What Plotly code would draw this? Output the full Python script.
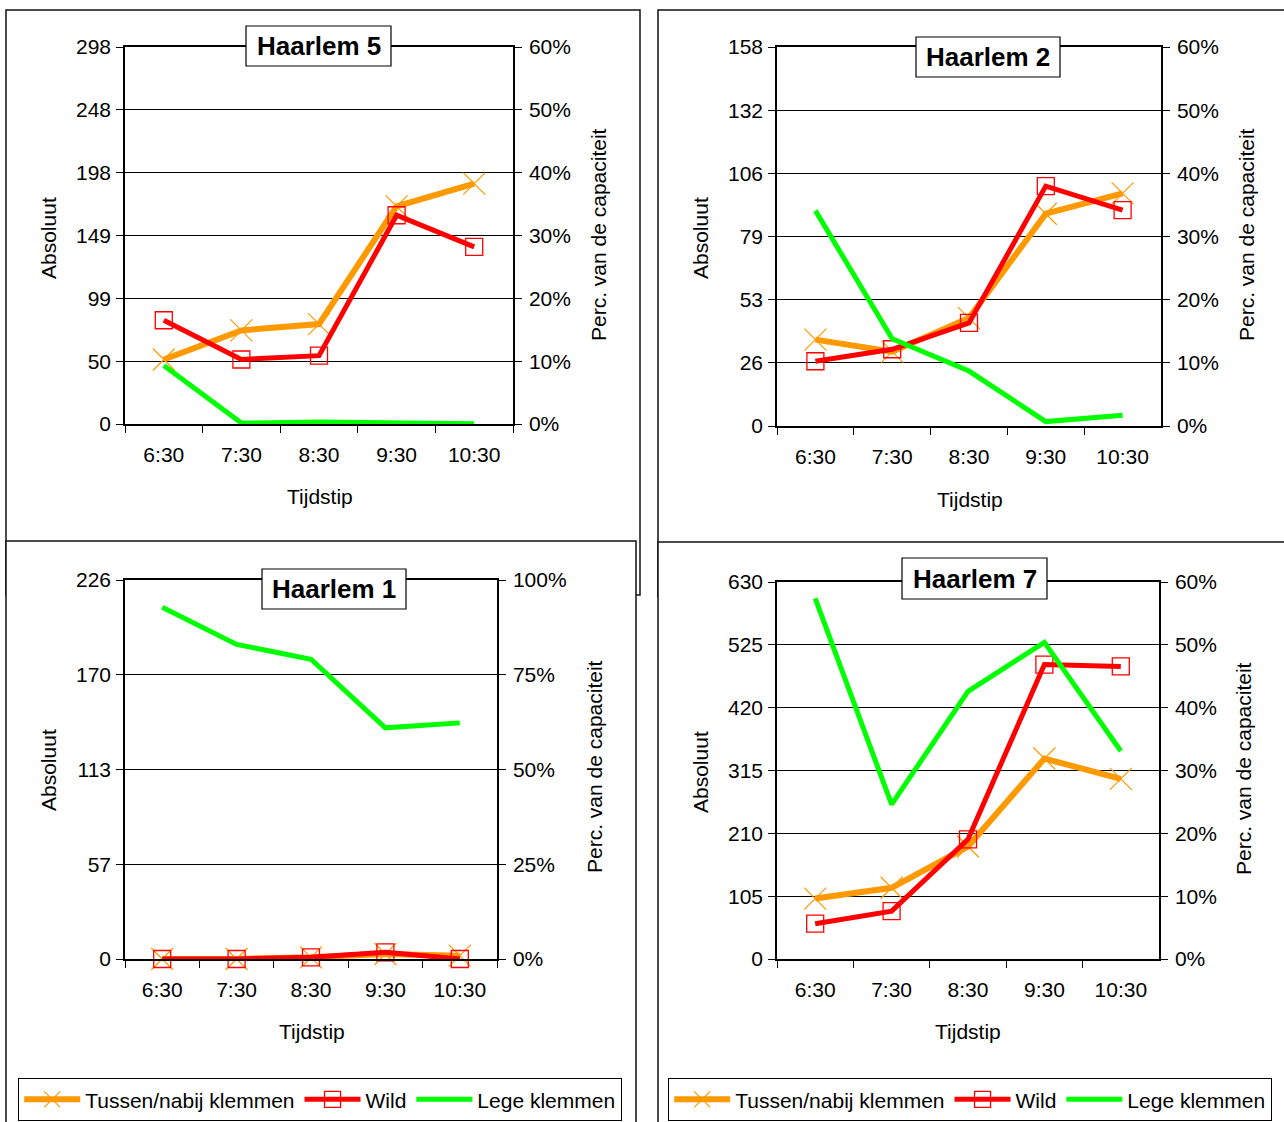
import plotly.graph_objects as go

W, H = 1284, 1122

# ---------------- data ----------------
times = ["6:30", "7:30", "8:30", "9:30", "10:30"]
series_names = ["Tussen/nabij klemmen", "Wild", "Lege klemmen"]

# Haarlem 5
h5_tussen = [51, 74, 79, 172, 190]
h5_wild = [82, 51, 54, 165, 140]
h5_lege = [0.093, 0.0015, 0.003, 0.0015, 0.0005]
h5_left_labels = ["0", "50", "99", "149", "198", "248", "298"]
h5_left_max = 298
h5_right_max = 0.60

# Haarlem 2
h2_tussen = [36, 31, 45, 88.5, 97]
h2_wild = [27, 32, 43, 100, 90]
h2_lege = [0.341, 0.138, 0.087, 0.007, 0.017]
h2_left_labels = ["0", "26", "53", "79", "106", "132", "158"]
h2_left_max = 158
h2_right_max = 0.60

# Haarlem 1
h1_tussen = [0, 0, 1, 3, 2]
h1_wild = [0, 0, 1, 4, 0]
h1_lege = [0.928, 0.83, 0.791, 0.61, 0.623]
h1_left_labels = ["0", "57", "113", "170", "226"]
h1_left_max = 226
h1_right_max = 1.00

# Haarlem 7
h7_tussen = [101, 119, 188, 335, 301]
h7_wild = [59, 80, 200, 492, 489]
h7_lege = [0.574, 0.246, 0.426, 0.504, 0.331]
h7_left_labels = ["0", "105", "210", "315", "420", "525", "630"]
h7_left_max = 630
h7_right_max = 0.60

axis_left_title = "Absoluut"
axis_right_title = "Perc. van de capaciteit"
axis_x_title = "Tijdstip"

# ---------------- styling / layout helpers ----------------
FONT = "Liberation Sans, Arial, sans-serif"
ORANGE = "#FF9900"
RED = "#FF0000"
GREEN = "#00FF00"


def px(x):
    return x / W


def py(y):
    return 1 - y / H


panels = [
    dict(title="Haarlem 5", t=h5_tussen, w=h5_wild, g=h5_lege, labels=h5_left_labels,
         lmax=h5_left_max, rmax=h5_right_max, rdtick=0.1,
         plot=(125, 513, 47, 424), tbox=(246, 391, 26, 66),
         ltitle=(48, 238), rtitle=(598, 235), xtitle=(320, 497), legend=None),
    dict(title="Haarlem 2", t=h2_tussen, w=h2_wild, g=h2_lege, labels=h2_left_labels,
         lmax=h2_left_max, rmax=h2_right_max, rdtick=0.1,
         plot=(777, 1161, 47, 426), tbox=(916, 1060, 37, 77),
         ltitle=(700, 238), rtitle=(1246, 235), xtitle=(970, 499), legend=None),
    dict(title="Haarlem 1", t=h1_tussen, w=h1_wild, g=h1_lege, labels=h1_left_labels,
         lmax=h1_left_max, rmax=h1_right_max, rdtick=0.25,
         plot=(125, 497, 580, 959), tbox=(262, 406, 569, 609),
         ltitle=(48, 770), rtitle=(594, 767), xtitle=(312, 1031), legend="legend"),
    dict(title="Haarlem 7", t=h7_tussen, w=h7_wild, g=h7_lege, labels=h7_left_labels,
         lmax=h7_left_max, rmax=h7_right_max, rdtick=0.1,
         plot=(777, 1159, 582, 959), tbox=(902, 1047, 558, 599),
         ltitle=(700, 772), rtitle=(1243, 769), xtitle=(968, 1031), legend="legend2"),
]

fig = go.Figure()
shapes = []
annotations = []

# outer frames of the four chart objects (drawn first = underneath)
frames = [(6, 10, 640, 595), (658, 10, 1290, 597), (6, 541, 636, 1130), (658, 542, 1290, 1130)]
for (x0, y0, x1, y1) in frames:
    shapes.append(dict(type="rect", xref="paper", yref="paper", layer="below",
                       x0=px(x0), x1=px(x1), y0=py(y0), y1=py(y1),
                       line=dict(color="#111", width=1.5), fillcolor="white"))

layout_axes = {}
for i, p in enumerate(panels):
    k = i + 1
    xa = "x" if k == 1 else f"x{k}"
    yl_n = 2 * i + 1
    yr_n = 2 * i + 2
    yl = "y" if yl_n == 1 else f"y{yl_n}"
    yr = f"y{yr_n}"
    x0, x1, ytop, ybot = p["plot"]
    show = p["legend"] is not None

    fig.add_trace(go.Scatter(
        x=times, y=p["t"], name=series_names[0], mode="lines+markers", cliponaxis=False,
        line=dict(color=ORANGE, width=6),
        marker=dict(symbol="x-thin-open", size=22, color=ORANGE, line=dict(color=ORANGE, width=1.2)),
        xaxis=xa, yaxis=yl, showlegend=show, legend=p["legend"] or "legend"))
    fig.add_trace(go.Scatter(
        x=times, y=p["w"], name=series_names[1], mode="lines+markers", cliponaxis=False,
        line=dict(color=RED, width=5),
        marker=dict(symbol="square-open", size=17, color=RED, line=dict(color=RED, width=1.3)),
        xaxis=xa, yaxis=yl, showlegend=show, legend=p["legend"] or "legend"))
    fig.add_trace(go.Scatter(
        x=times, y=p["g"], name=series_names[2], mode="lines", cliponaxis=False,
        line=dict(color=GREEN, width=5),
        xaxis=xa, yaxis=yr, showlegend=show, legend=p["legend"] or "legend"))

    nlab = len(p["labels"]) - 1
    tickvals = [p["lmax"] * j / nlab for j in range(nlab + 1)]

    layout_axes["xaxis" if k == 1 else f"xaxis{k}"] = dict(
        domain=[px(x0), px(x1)], anchor=yl, type="category", range=[-0.5, 4.5],
        showline=True, linecolor="black", linewidth=1.5, mirror=True,
        ticks="outside", ticklen=7, tickcolor="black", tickson="boundaries",
        showgrid=False, tickfont=dict(family=FONT, size=21, color="black"),
        ticklabelstandoff=11, automargin=False, fixedrange=True)
    layout_axes["yaxis" if yl_n == 1 else f"yaxis{yl_n}"] = dict(
        domain=[py(ybot), py(ytop)], anchor=xa, range=[0, p["lmax"]],
        tickvals=tickvals, ticktext=p["labels"],
        showline=True, linecolor="black", linewidth=1.5,
        ticks="outside", ticklen=7, tickcolor="black",
        showgrid=True, gridcolor="black", gridwidth=1, zeroline=False,
        tickfont=dict(family=FONT, size=21, color="black"),
        ticklabelstandoff=1, automargin=False, fixedrange=True)
    layout_axes[f"yaxis{yr_n}"] = dict(
        domain=[py(ybot), py(ytop)], anchor=xa, overlaying=yl, side="right",
        range=[0, p["rmax"]], dtick=p["rdtick"], tick0=0, tickformat=".0%",
        showline=True, linecolor="black", linewidth=1.5,
        ticks="outside", ticklen=7, tickcolor="black",
        showgrid=False, zeroline=False,
        tickfont=dict(family=FONT, size=21, color="black"),
        ticklabelstandoff=3, automargin=False, fixedrange=True)

    # title box
    bx0, bx1, by0, by1 = p["tbox"]
    shapes.append(dict(type="rect", xref="paper", yref="paper", layer="above",
                       x0=px(bx0), x1=px(bx1), y0=py(by0), y1=py(by1),
                       line=dict(color="black", width=1.2), fillcolor="white"))
    annotations.append(dict(text=f"<b>{p['title']}</b>", xref="paper", yref="paper",
                            x=px((bx0 + bx1) / 2), y=py((by0 + by1) / 2),
                            xanchor="center", yanchor="middle", showarrow=False,
                            font=dict(family=FONT, size=26, color="black")))
    # axis titles
    annotations.append(dict(text=axis_left_title, xref="paper", yref="paper",
                            x=px(p["ltitle"][0]), y=py(p["ltitle"][1]), textangle=-90,
                            xanchor="center", yanchor="middle", showarrow=False,
                            font=dict(family=FONT, size=21, color="black")))
    annotations.append(dict(text=axis_right_title, xref="paper", yref="paper",
                            x=px(p["rtitle"][0]), y=py(p["rtitle"][1]), textangle=-90,
                            xanchor="center", yanchor="middle", showarrow=False,
                            font=dict(family=FONT, size=21, color="black")))
    annotations.append(dict(text=axis_x_title, xref="paper", yref="paper",
                            x=px(p["xtitle"][0]), y=py(p["xtitle"][1]),
                            xanchor="center", yanchor="middle", showarrow=False,
                            font=dict(family=FONT, size=21, color="black")))

legend_common = dict(orientation="h", xanchor="left", yanchor="top",
                     bordercolor="black", borderwidth=1.2, bgcolor="white",
                     font=dict(family=FONT, size=21, color="black"),
                     itemwidth=56, tracegroupgap=0, itemclick=False, itemdoubleclick=False)

fig.update_layout(
    width=W, height=H, margin=dict(l=0, r=0, t=0, b=0, autoexpand=False),
    paper_bgcolor="white", plot_bgcolor="white",
    font=dict(family=FONT, size=21, color="black"),
    shapes=shapes, annotations=annotations,
    legend=dict(x=px(18), y=py(1078), **legend_common),
    legend2=dict(x=px(668), y=py(1078), **legend_common),
    **layout_axes,
)

fig.write_html("out.html")
